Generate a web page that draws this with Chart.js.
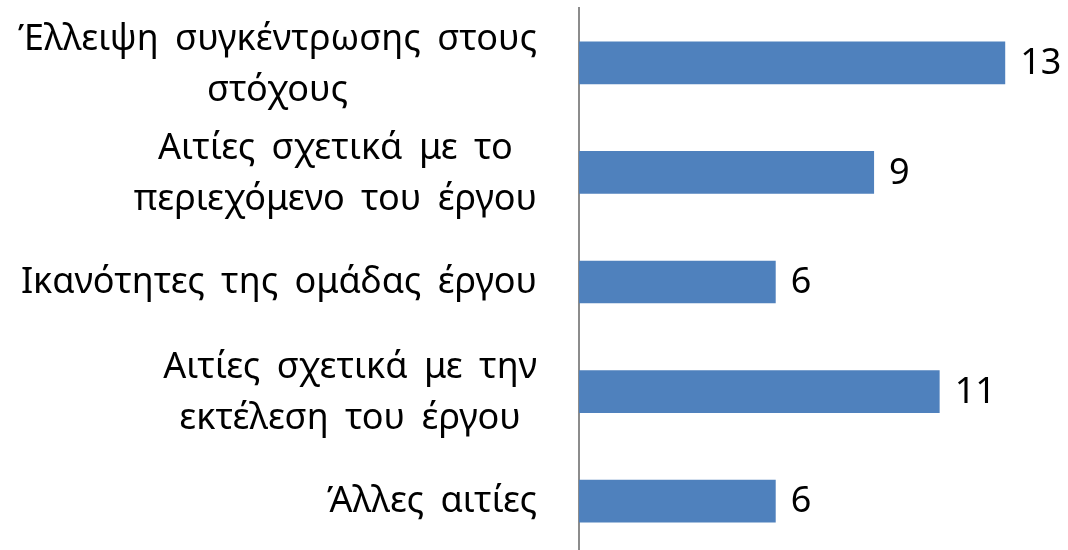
<!DOCTYPE html>
<html>
<head>
<meta charset="utf-8">
<script src="https://cdn.jsdelivr.net/npm/chart.js@4"></script>
<style>
  html, body { margin: 0; padding: 0; background: #fff; overflow: hidden; }
  #wrap { position: relative; width: 1068px; height: 556px; }
</style>
</head>
<body>
<div id="wrap"><canvas id="chart"></canvas></div>
<script>
// categories (multi-line labels) and values
const categories = [
    ["Έλλειψη συγκέντρωσης στους", "στόχους"],
    ["Αιτίες σχετικά με το", "περιεχόμενο του έργου"],
    ["Ικανότητες της ομάδας έργου"],
    ["Αιτίες σχετικά με την", "εκτέλεση του έργου"],
    ["Άλλες αιτίες"]
];
const values = [13, 9, 6, 11, 6];

const FONT = '36px "Noto Sans"';
const LABEL_RIGHT = 537;
const LINE_H = 51;

// labels left of the axis (block right aligned, lines centred) and value labels
const textPlugin = {
    id: 'texts',
    afterDatasetsDraw(chart){
        let ctx = chart.ctx;
        let yScale = chart.scales.y;
        let meta = chart.getDatasetMeta(0);
        ctx.save();
        ctx.font = FONT;
        ctx.fillStyle = '#000';
        ctx.textBaseline = 'middle';
        categories.forEach((lines, i) => {
            let cy = yScale.getPixelForValue(i);
            ctx.wordSpacing = '7px';
            let w = Math.max(...lines.map(l => ctx.measureText(l).width));
            ctx.textAlign = 'center';
            lines.forEach((l, j) => {
                let off = lines.length > 1 ? 2 : 1;
                ctx.fillText(l, LABEL_RIGHT - w / 2, cy + off + (j - (lines.length - 1) / 2) * LINE_H);
            });
            ctx.wordSpacing = '0px';
            let bar = meta.data[i];
            ctx.textAlign = 'left';
            ctx.fillText(String(values[i]), bar.x + 15, bar.y + 1);
        });
        ctx.restore();
    }
};

let ctx = document.getElementById('chart');
let myChart = new Chart(ctx, {
    type: 'bar',
    data: {
        labels: categories.map(c => c.join(' ')),
        datasets: [{
            data: values,
            backgroundColor: '#4F81BD',
            borderWidth: 0,
            categoryPercentage: 1,
            barPercentage: 0.39
        }]
    },
    options: {
        indexAxis: 'y',
        responsive: true,
        maintainAspectRatio: false,
        animation: false,
        layout: {
            padding: { top: 8, right: 30, bottom: 0, left: 0 }
        },
        scales: {
            x: {
                display: false,
                min: 0,
                max: 14
            },
            y: {
                grid: { display: false },
                border: { display: true, color: '#8c8c8c', width: 2 },
                ticks: { display: false },
                afterFit: function(scale){
                    scale.width = 579;
                }
            }
        },
        plugins: {
            legend: { display: false },
            tooltip: { enabled: false }
        }
    },
    plugins: [textPlugin]
});
</script>
</body>
</html>
